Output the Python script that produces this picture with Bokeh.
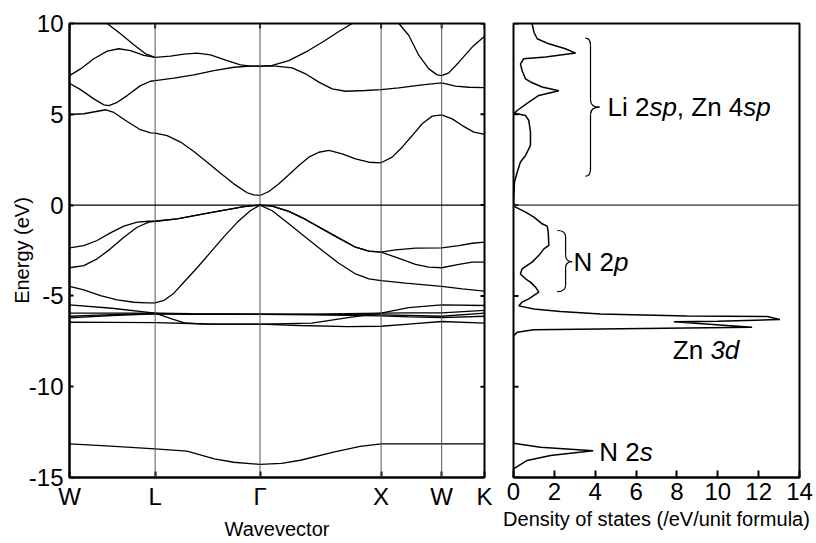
import math
from bokeh.plotting import figure
from bokeh.models import Range1d, FixedTicker, Span
from bokeh.layouts import row
from bokeh.embed import file_html
from bokeh.resources import INLINE
from bokeh.core.properties import value

# ---------------- data ----------------
k_ticks = [0.0, 0.7071, 1.5731, 2.5731, 3.0731, 3.4267]
k_labels = ["W", "L", "Γ", "X", "W", "K"]
energy_ticks = [-15, -10, -5, 0, 5, 10]
dos_ticks = [0, 2, 4, 6, 8, 10, 12, 14]

# conduction bands
c1_k = [0.0, 0.118, 0.30, 0.366, 0.476, 0.586, 0.669, 0.707, 0.806, 0.917, 1.027, 1.137, 1.247, 1.357, 1.467, 1.522, 1.573,
        1.646, 1.729, 1.811, 1.894, 1.976, 2.059, 2.142, 2.252, 2.362, 2.472, 2.573, 2.664, 2.747, 2.830, 2.912, 2.995,
        3.073, 3.160, 3.243, 3.339, 3.427]
c1_E = [4.99, 5.03, 5.25, 5.10, 4.60, 4.15, 3.98, 3.96, 3.83, 3.47, 2.95, 2.36, 1.76, 1.17, 0.68, 0.56, 0.53,
        0.75, 1.17, 1.67, 2.18, 2.64, 2.91, 3.01, 2.82, 2.55, 2.36, 2.33, 2.64, 3.19, 3.83, 4.48, 4.90,
        4.97, 4.75, 4.38, 4.02, 3.89]
c2_k = [0.0, 0.091, 0.201, 0.284, 0.325, 0.394, 0.476, 0.586, 0.669, 0.707, 0.862, 1.027, 1.192, 1.357, 1.495, 1.573,
        1.701, 1.839, 1.949, 2.059, 2.169, 2.279, 2.444, 2.573, 2.719, 2.912, 3.073, 3.187, 3.298, 3.427]
c2_E = [6.71, 6.36, 5.85, 5.52, 5.48, 5.66, 6.03, 6.58, 6.82, 6.86, 6.99, 7.17, 7.41, 7.59, 7.65, 7.65,
        7.65, 7.56, 7.23, 6.77, 6.40, 6.27, 6.31, 6.36, 6.45, 6.62, 6.73, 6.55, 6.49, 6.47]
c3_k = [0.0, 0.091, 0.201, 0.311, 0.407, 0.504, 0.614, 0.707, 0.834, 0.944, 1.054, 1.164, 1.302, 1.412, 1.495, 1.573,
        1.674, 1.811, 1.949, 2.087, 2.224, 2.334]
c3_E = [7.13, 7.50, 8.06, 8.48, 8.61, 8.51, 8.24, 8.14, 8.20, 8.31, 8.37, 8.27, 7.96, 7.72, 7.65, 7.65,
        7.69, 7.96, 8.42, 8.97, 9.56, 10.0]
c4_k = [0.311, 0.421, 0.531, 0.628, 0.707]
c4_E = [10.0, 9.43, 8.83, 8.33, 8.14]
c5_k = [2.720, 2.802, 2.885, 2.967, 3.036, 3.073, 3.132, 3.215, 3.325, 3.427]
c5_E = [10.0, 9.34, 8.24, 7.50, 7.17, 7.13, 7.28, 7.87, 8.70, 9.30]

# valence bands (N 2p)
v1_k = [0.0, 0.118, 0.228, 0.338, 0.449, 0.559, 0.655, 0.707, 0.889, 1.164, 1.440, 1.573, 1.674, 1.811, 1.949, 2.087,
        2.224, 2.362, 2.472, 2.573, 2.692, 2.857, 3.073, 3.215, 3.325, 3.427]
v1_E = [-2.36, -2.23, -1.95, -1.53, -1.16, -0.94, -0.89, -0.89, -0.76, -0.42, -0.08, 0.0, -0.06, -0.35, -0.79, -1.31,
        -1.82, -2.32, -2.54, -2.59, -2.47, -2.37, -2.35, -2.23, -2.10, -2.04]
v2_k = [0.0, 0.118, 0.228, 0.338, 0.449, 0.559, 0.655, 0.707, 0.889, 1.164, 1.440, 1.573, 1.674, 1.811, 1.949, 2.087,
        2.224, 2.362, 2.472, 2.573, 2.692, 2.857, 2.967, 3.073, 3.215, 3.325, 3.427]
v2_E = [-3.45, -3.33, -2.96, -2.41, -1.77, -1.22, -0.94, -0.89, -0.76, -0.42, -0.08, 0.0, -0.06, -0.35, -0.79, -1.31,
        -1.82, -2.32, -2.54, -2.59, -2.87, -3.27, -3.42, -3.45, -3.27, -3.14, -3.14]
v3_k = [0.0, 0.118, 0.256, 0.394, 0.531, 0.641, 0.707, 0.779, 0.862, 0.944, 1.054, 1.164, 1.274, 1.385, 1.495, 1.573,
        1.674, 1.811, 1.949, 2.087, 2.224, 2.362, 2.472, 2.573, 2.775, 3.073, 3.243, 3.427]
v3_E = [-4.48, -4.67, -4.98, -5.22, -5.35, -5.38, -5.38, -5.25, -4.85, -4.25, -3.45, -2.60, -1.75, -0.95, -0.30, 0.0,
        -0.31, -1.03, -1.77, -2.50, -3.20, -3.79, -4.06, -4.16, -4.30, -4.48, -4.61, -4.74]

# Zn 3d bands
d1_k = [0.0, 0.35, 0.707, 0.85, 0.95, 1.1, 1.573, 2.0, 2.3, 2.573, 2.8, 3.073, 3.427]
d1_E = [-5.49, -5.68, -5.95, -6.28, -6.48, -6.55, -6.55, -6.50, -6.20, -5.95, -5.65, -5.49, -5.53]
d2_k = [0.0, 0.35, 0.707, 1.0, 1.573, 2.0, 2.573, 2.8, 3.073, 3.427]
d2_E = [-5.95, -5.95, -5.95, -5.98, -6.00, -6.00, -5.95, -5.93, -5.93, -5.80]
d3_k = [0.0, 0.35, 0.707, 1.0, 1.573, 2.0, 2.573, 2.8, 3.073, 3.427]
d3_E = [-6.12, -6.03, -5.97, -6.00, -6.00, -6.02, -6.05, -6.08, -6.12, -5.95]
d4_k = [0.0, 0.35, 0.707, 1.0, 1.573, 2.0, 2.573, 2.8, 3.073, 3.427]
d4_E = [-6.21, -6.08, -5.99, -6.01, -6.02, -6.05, -6.10, -6.15, -6.20, -6.12]
d5_k = [0.0, 0.35, 0.707, 1.0, 1.2, 1.573, 1.9, 2.3, 2.573, 2.8, 3.073, 3.427]
d5_E = [-6.45, -6.46, -6.47, -6.52, -6.55, -6.55, -6.63, -6.69, -6.67, -6.55, -6.41, -6.50]

# N 2s band
s_k = [0.0, 0.339, 0.707, 0.97, 1.196, 1.356, 1.573, 1.75, 1.907, 2.18, 2.40, 2.573, 3.073, 3.427]
s_E = [-13.15, -13.27, -13.42, -13.55, -13.97, -14.16, -14.28, -14.22, -14.05, -13.60, -13.29, -13.15, -13.15, -13.15]

# density of states
dos_E = [10.0, 9.52, 9.16, 8.88, 8.61, 8.37, 8.15, 8.06, 7.78, 7.41, 6.95, 6.78, 6.50, 6.30, 6.04, 5.67, 5.21, 5.06,
         4.93, 4.66, 4.02, 3.29, 2.73, 2.37, 1.81, 1.27, 0.17, -0.10, -0.39, -0.66, -1.03, -1.16, -1.49, -2.22, -2.41,
         -2.77, -2.86, -3.14, -3.51, -3.79, -4.06, -4.24, -4.52, -4.79, -4.97, -5.16, -5.34, -5.55, -5.72, -5.86,
         -6.00, -6.10, -6.14, -6.30, -6.40, -6.43, -6.72, -6.87, -7.00, -7.20, -13.11, -13.33, -13.53, -13.79,
         -14.06, -14.52, -15.0]
dos_val = [0.91, 1.00, 1.16, 1.73, 2.54, 3.04, 1.57, 0.50, 0.34, 0.42, 0.59, 0.83, 1.40, 2.22, 1.24, 0.75, 0.18, 0.05,
           0.59, 0.75, 0.83, 0.83, 0.59, 0.34, 0.18, 0.05, 0.0, 0.08, 0.59, 1.00, 1.40, 1.65, 1.70, 1.73, 1.49,
           1.24, 1.16, 0.91, 0.42, 0.34, 0.59, 0.83, 1.08, 1.24, 1.00, 0.75, 0.42, 0.26, 1.00, 2.30,
           4.26, 8.50, 12.42, 13.04, 10.0, 7.85, 11.68, 0.99, 0.18, 0.0, 0.0, 1.32, 3.90, 1.81,
           0.67, 0.0, 0.0]

bands = [(c1_k, c1_E), (c2_k, c2_E), (c3_k, c3_E), (c4_k, c4_E), (c5_k, c5_E),
         (v1_k, v1_E), (v2_k, v2_E), (v3_k, v3_E),
         (d1_k, d1_E), (d2_k, d2_E), (d3_k, d3_E), (d4_k, d4_E), (d5_k, d5_E),
         (s_k, s_E)]

# ---------------- styling helpers ----------------
FONT = "Liberation Sans"
TICK_FS = "24px"
LABEL_FS = "20px"
ANN_FS = 26

W_EM = {"L": .556, "i": .222, " ": .278, "2": .556, "s": .5, "p": .556, ",": .278, "Z": .611,
        "n": .556, "4": .556, "N": .722, "3": .556, "d": .556}


def style_axis(ax, ticks, tick_in):
    ax.ticker = FixedTicker(ticks=ticks)
    ax.major_tick_in = tick_in
    ax.major_tick_out = 0
    ax.minor_tick_line_color = None
    ax.major_tick_line_width = 2
    ax.axis_line_width = 2
    ax.axis_line_color = "black"
    ax.major_tick_line_color = "black"
    ax.major_label_text_font = FONT
    ax.major_label_text_color = "black"
    ax.major_label_text_font_size = TICK_FS
    ax.major_label_standoff = 5
    ax.axis_label_text_font = FONT
    ax.axis_label_text_font_style = "normal"
    ax.axis_label_text_font_size = LABEL_FS
    ax.axis_label_text_color = "black"


def inner_ticks(p, xs, ys, length, angle):
    p.ray(x=xs, y=ys, length=length, length_units="screen", angle=angle,
          line_color="black", line_width=2)


def rich_label(p, x, y, parts, size=ANN_FS):
    off = 0.0
    for txt, ital in parts:
        p.text(x=[x], y=[y], text=[txt], x_offset=off, text_font=value(FONT),
               text_font_size=f"{size}px", text_font_style="italic" if ital else "normal",
               text_align="left", text_baseline="middle", text_color="black")
        off += sum(W_EM.get(ch, 0.556) for ch in txt) * size


def brace(p, x0, xm, xt, top, mid, bot, h):
    kw = dict(line_color="black", line_width=1.2)
    p.quadratic(x0=[x0, xm, xt, xm], y0=[top, mid + h, mid, bot + h],
                x1=[xm, xt, xm, x0], y1=[top - h, mid, mid - h, bot],
                cx=[xm, xm, xm, xm], cy=[top, mid, mid, bot], **kw)
    p.segment(x0=[xm, xm], y0=[top - h, mid - h], x1=[xm, xm], y1=[mid + h, bot + h], **kw)


HEIGHT = 542
TOP = 23
BOTTOM = 65

# ---------------- band structure panel ----------------
p1 = figure(width=498, height=HEIGHT, x_range=Range1d(k_ticks[0], k_ticks[-1]),
            y_range=Range1d(energy_ticks[0], energy_ticks[-1]),
            output_backend="svg", toolbar_location=None,
            min_border_left=69, min_border_right=14, min_border_top=TOP, min_border_bottom=BOTTOM)
p1.grid.visible = False
p1.outline_line_color = "black"
p1.outline_line_width = 2

style_axis(p1.xaxis[0], k_ticks, 6)
p1.xaxis[0].major_label_overrides = {k: lab for k, lab in zip(k_ticks, k_labels)}
p1.xaxis[0].axis_label = "Wavevector"
p1.xaxis[0].axis_label_standoff = 5
style_axis(p1.yaxis[0], energy_ticks, 4)
p1.yaxis[0].major_label_overrides = {t: str(t) for t in energy_ticks}
p1.yaxis[0].major_label_standoff = 6
p1.yaxis[0].axis_label = "Energy (eV)"
p1.yaxis[0].axis_label_standoff = -7

for kt in k_ticks[1:-1]:
    p1.add_layout(Span(location=kt, dimension="height", line_color="#555555", line_width=1))
p1.add_layout(Span(location=0, dimension="width", line_color="black", line_width=1.2))

for bk, be in bands:
    p1.line(bk, be, line_color="black", line_width=1.3)

# inward ticks on the right and top edges
inner_ticks(p1, [k_ticks[-1]] * len(energy_ticks), energy_ticks, 4, math.pi)
inner_ticks(p1, k_ticks, [energy_ticks[-1]] * len(k_ticks), 5, -math.pi / 2)

# ---------------- DOS panel ----------------
p2 = figure(width=318, height=HEIGHT, x_range=Range1d(dos_ticks[0], dos_ticks[-1]),
            y_range=Range1d(energy_ticks[0], energy_ticks[-1]),
            output_backend="svg", toolbar_location=None, y_axis_location=None,
            min_border_left=15, min_border_right=17, min_border_top=TOP, min_border_bottom=BOTTOM)
p2.grid.visible = False
p2.outline_line_color = "black"
p2.outline_line_width = 2
style_axis(p2.xaxis[0], dos_ticks, 7)
p2.xaxis[0].axis_label = "Density of states (/eV/unit formula)"
p2.xaxis[0].axis_label_standoff = 5

inner_ticks(p2, [dos_ticks[0]] * len(energy_ticks), energy_ticks, 5, 0.0)

p2.add_layout(Span(location=0, dimension="width", line_color="#333333", line_width=1.2))
p2.line(dos_val, dos_E, line_color="black", line_width=1.5)

brace(p2, 3.52, 3.77, 4.21, 9.19, 5.39, 1.59, 0.4)
brace(p2, 2.14, 2.55, 2.87, -1.40, -3.11, -4.76, 0.35)
rich_label(p2, 4.6, 5.39, [("Li 2", False), ("sp", True), (", Zn 4", False), ("sp", True)])
rich_label(p2, 2.94, -3.11, [("N 2", False), ("p", True)])
rich_label(p2, 7.8, -7.96, [("Zn ", False), ("3d", True)])
rich_label(p2, 4.2, -13.6, [("N 2", False), ("s", True)])

layout = row(p1, p2)
open("out.html", "w").write(file_html(layout, INLINE))
